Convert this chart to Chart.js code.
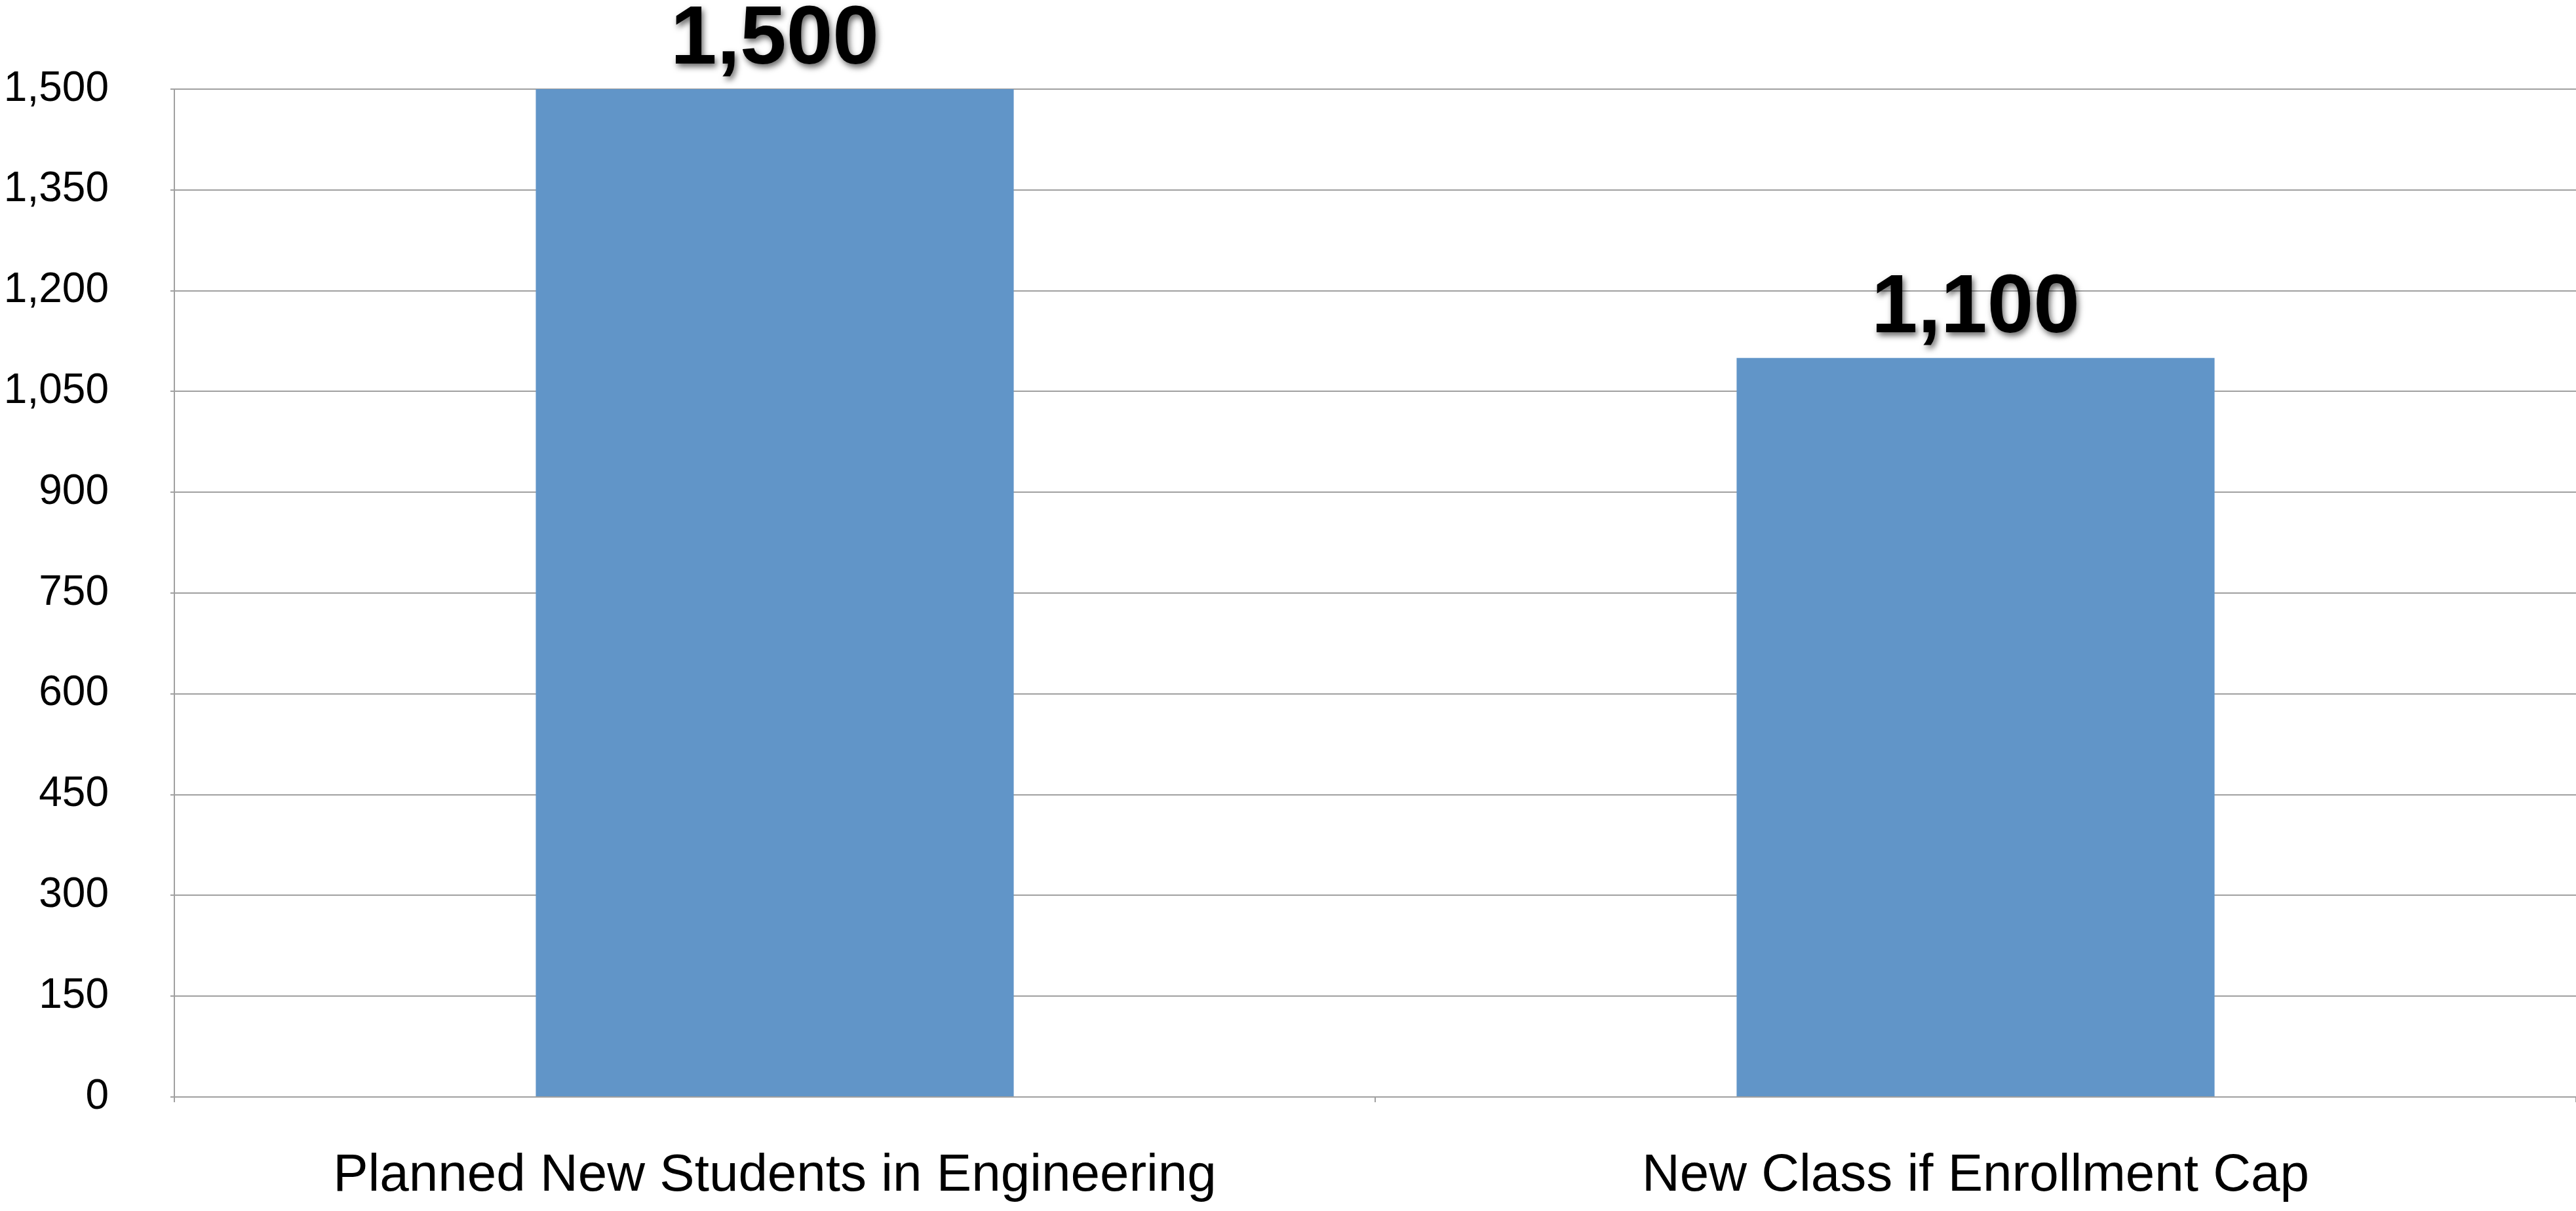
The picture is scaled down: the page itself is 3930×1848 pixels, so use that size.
<!DOCTYPE html>
<html>
<head>
<meta charset="utf-8">
<script src="https://cdn.jsdelivr.net/npm/chart.js@4.4.1/dist/chart.umd.min.js"></script>
<style>
  html, body { margin: 0; padding: 0; background: #ffffff; }
  #wrap { width: 3930px; height: 1848px; position: relative; }
  canvas { display: block; }
</style>
</head>
<body>
<div id="wrap"><canvas id="c" width="3930" height="1848"></canvas></div>
<script>
const categories = ["Planned New Students in Engineering", "New Class if Enrollment Cap"];
const values = [1500, 1100];
const yMin = 0;
const yMax = 1500;
const yStep = 150;

const FONT = '"Liberation Sans", Arial, Helvetica, sans-serif';
const GRID = '#a0a0a0';

const valueLabels = {
  id: 'valueLabels',
  afterDatasetsDraw(chart) {
    const ctx = chart.ctx;
    const meta = chart.getDatasetMeta(0);
    ctx.save();
    ctx.font = 'bold 127px ' + FONT;
    ctx.textAlign = 'center';
    ctx.textBaseline = 'alphabetic';
    ctx.fillStyle = '#000000';
    ctx.shadowColor = 'rgba(0,0,0,0.6)';
    ctx.shadowBlur = 10;
    ctx.shadowOffsetX = 3;
    ctx.shadowOffsetY = 5;
    meta.data.forEach((bar, i) => {
      ctx.fillText(values[i].toLocaleString('en-US'), bar.x, bar.y - 39);
    });
    ctx.restore();
  }
};

new Chart(document.getElementById('c'), {
  type: 'bar',
  data: {
    labels: categories,
    datasets: [{
      data: values,
      backgroundColor: '#6195c8',
      borderWidth: 0,
      barPercentage: 0.398,
      categoryPercentage: 1.0
    }]
  },
  options: {
    responsive: false,
    animation: false,
    devicePixelRatio: 1,
    layout: { padding: { top: 136, left: 0, right: 0, bottom: 0 } },
    plugins: {
      legend: { display: false },
      tooltip: { enabled: false },
      title: { display: false }
    },
    scales: {
      x: {
        offset: true,
        grid: {
          display: true,
          offset: true,
          drawOnChartArea: false,
          drawTicks: true,
          tickLength: 8,
          color: GRID,
          lineWidth: 2
        },
        border: { display: true, color: GRID, width: 2 },
        ticks: {
          color: '#000000',
          font: { family: FONT, size: 80 },
          padding: 65,
          maxRotation: 0,
          autoSkip: false
        },
        afterFit(scale) { scale.height = 174; }
      },
      y: {
        min: yMin,
        max: yMax,
        grid: {
          color: GRID,
          lineWidth: 2,
          drawTicks: true,
          tickLength: 6
        },
        border: { display: true, color: GRID, width: 2 },
        ticks: {
          stepSize: yStep,
          color: '#000000',
          font: { family: FONT, size: 64 },
          padding: 94,
          callback: (v) => Number(v).toLocaleString('en-US')
        },
        afterFit(scale) { scale.width = 266; }
      }
    }
  },
  plugins: [valueLabels]
});
</script>
</body>
</html>
